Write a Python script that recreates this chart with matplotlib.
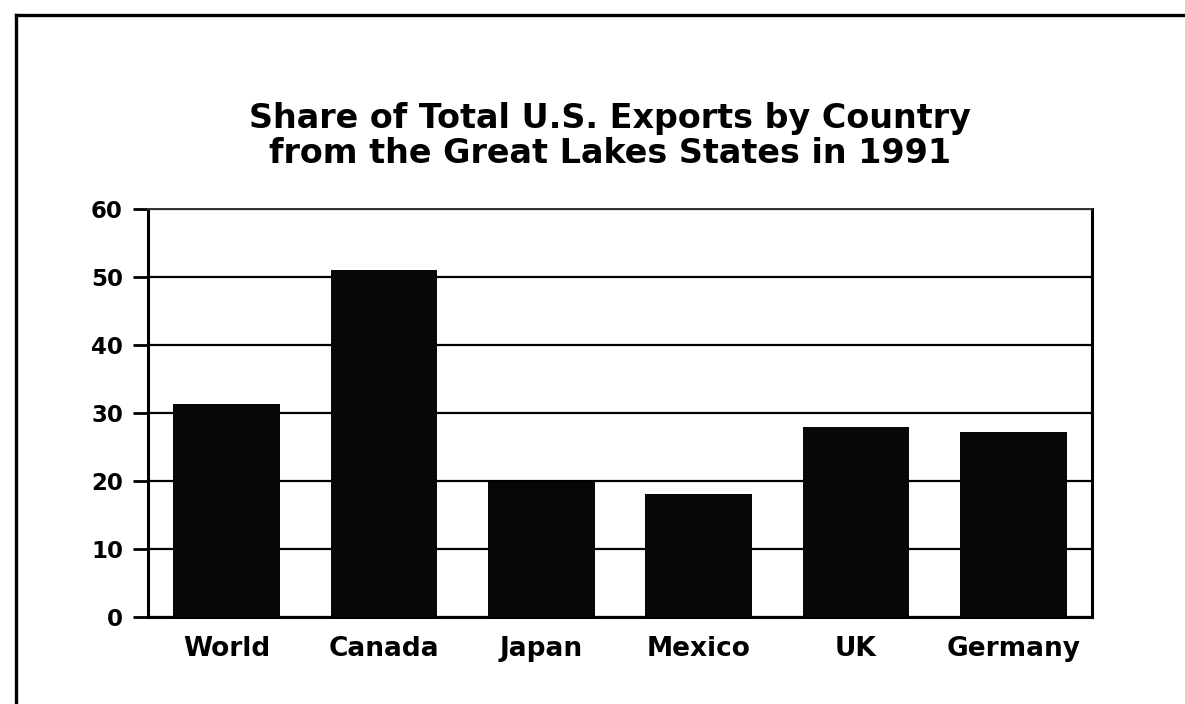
import matplotlib
matplotlib.use("Agg")
import matplotlib.pyplot as plt
from matplotlib.lines import Line2D

# Data
countries = ["World", "Canada", "Japan", "Mexico", "UK", "Germany"]
share = [31.3, 51.1, 19.9, 18.1, 28.0, 27.2]
y_ticks = [0, 10, 20, 30, 40, 50, 60]

title_1 = "Share of Total U.S. Exports by Country"
title_2 = "from the Great Lakes States in 1991"

W, H = 1185, 704
fig = plt.figure(figsize=(W / 100, H / 100), dpi=100)
fig.patch.set_facecolor("white")

# axes box in pixel terms -> figure fractions
left, right, top, bottom = 148, 1092, 209, 617
ax = fig.add_axes([left / W, 1 - bottom / H, (right - left) / W, (bottom - top) / H])

x = list(range(len(countries)))
ax.bar(x, share, width=0.68, color="#070707", zorder=3)

ax.set_xlim(-0.5, len(countries) - 0.5)
ax.set_ylim(0, 60)
ax.set_yticks(y_ticks)
ax.set_xticks(x)
ax.set_xticklabels(countries, fontsize=19, fontweight="bold", family="DejaVu Sans")
ax.set_yticklabels([str(v) for v in y_ticks], fontsize=16.5, fontweight="bold",
                   family="DejaVu Sans")

ax.tick_params(axis="x", length=0, pad=14)
ax.tick_params(axis="y", length=11, width=2, direction="out", pad=7)

# horizontal grid lines
ax.yaxis.grid(True, color="black", linewidth=1.6, zorder=1)
ax.set_axisbelow(True)

for side in ["left", "right", "bottom"]:
    ax.spines[side].set_linewidth(2.2)
    ax.spines[side].set_color("black")
ax.spines["top"].set_linewidth(1.4)
ax.spines["top"].set_color("#333333")

# title, two lines
tx = 610 / W
fig.text(tx, 1 - 128 / H, title_1, ha="center", va="baseline",
         fontsize=24, fontweight="bold", family="DejaVu Sans")
fig.text(tx, 1 - 163 / H, title_2, ha="center", va="baseline",
         fontsize=24, fontweight="bold", family="DejaVu Sans")

# outer frame (left and top edges visible)
fig.add_artist(Line2D([16 / W, 16 / W], [0, 1 - 15 / H], transform=fig.transFigure,
                      color="black", linewidth=2.4))
fig.add_artist(Line2D([16 / W, 1], [1 - 15 / H, 1 - 15 / H], transform=fig.transFigure,
                      color="black", linewidth=2.4))

fig.savefig("out.png", dpi=100)
